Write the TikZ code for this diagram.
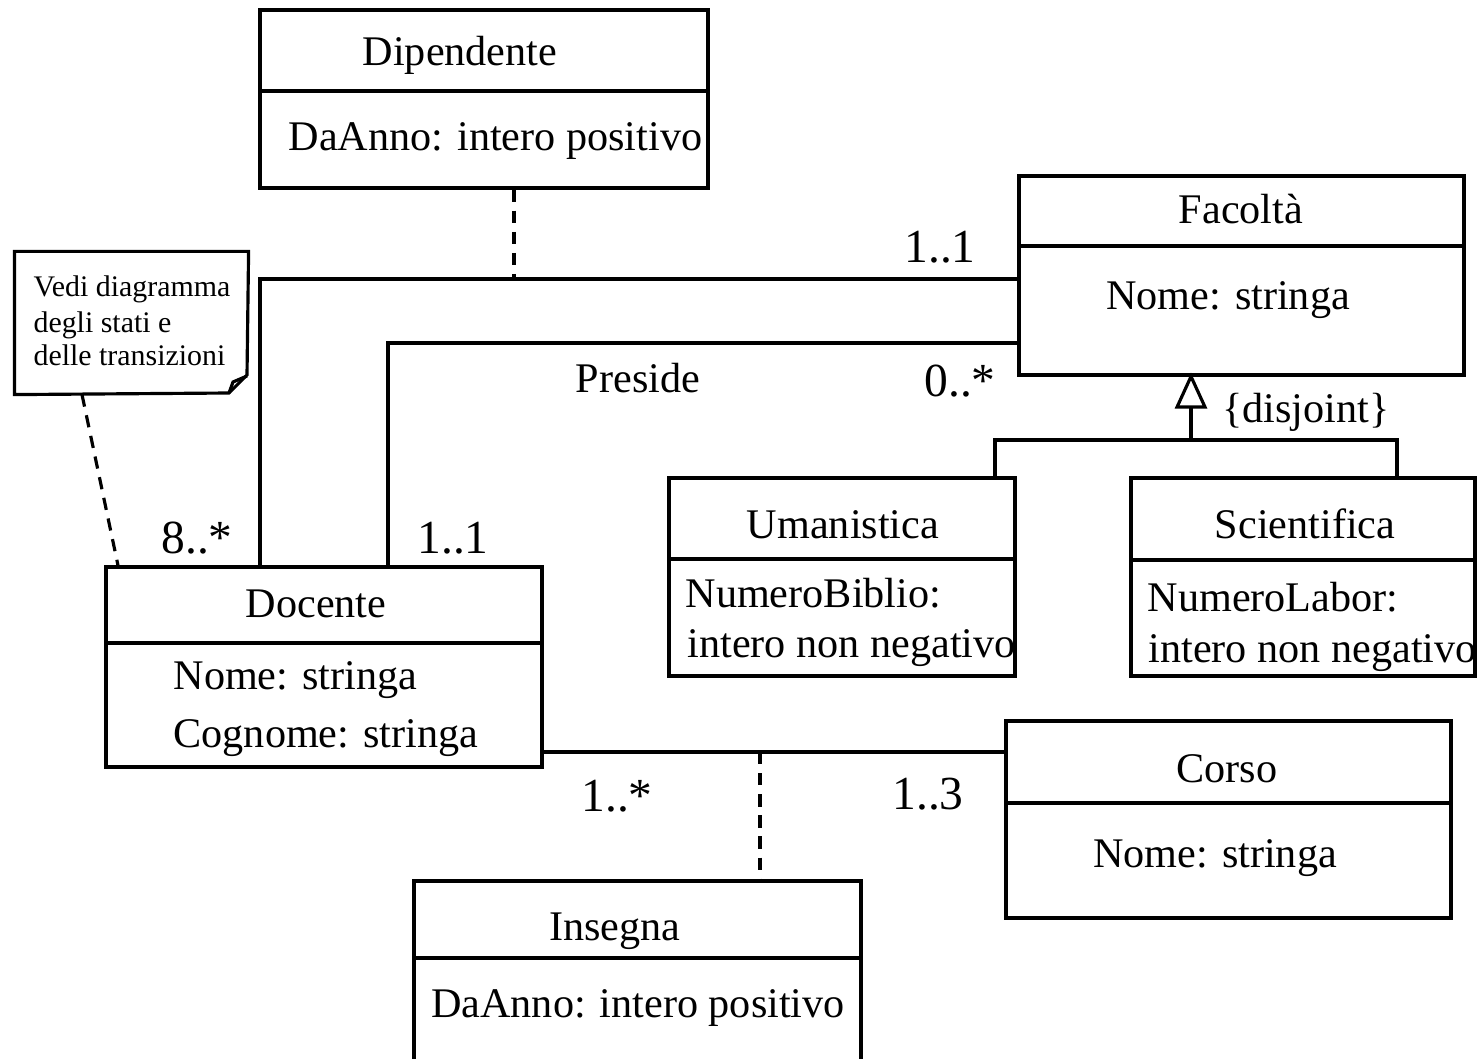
\documentclass[tikz,border=0pt]{standalone}
\usepackage{fontspec}
\setmainfont{Liberation Serif}
\usetikzlibrary{positioning}
\usetikzlibrary{arrows.meta}
\usetikzlibrary{fit}

\begin{document}
\begin{tikzpicture}[x=0.01cm, y=-0.01cm, line width=0.9pt,
  classbox/.style={draw, rectangle, inner sep=0pt},
  txt/.style={inner sep=0pt, anchor=base, font=\fontsize{12}{14}\selectfont},
  attr/.style={txt, anchor=base west},
  mult/.style={inner sep=0pt, anchor=base, font=\fontsize{13.5}{16}\selectfont},
  notetxt/.style={inner sep=0pt, anchor=base west, font=\fontsize{8.5}{10}\selectfont},
  assocdash/.style={dash pattern=on 3.5pt off 2.5pt},
  gen/.style={-{Triangle[open, length=0.36cm, width=0.32cm]}}]

\path[use as bounding box, clip] (0,0) rectangle (1477,1058);

% classes
\node[classbox, fit={(260,10) (708,188)}] (dip) {};
\draw (dip.west |- 0,91) -- (dip.east |- 0,91);
\node[txt] (dip-t) at (460,66) {Dipendente};
\node[attr] (dip-a) at (287,151) {DaAnno: intero positivo};

\node[classbox, fit={(1019,176) (1464,375)}] (fac) {};
\draw (fac.west |- 0,246) -- (fac.east |- 0,246);
\node[txt] (fac-t) at (1241,224) {Facoltà};
\node[txt] (fac-a) at (1228,310) {Nome: stringa};

\node[classbox, fit={(106,567) (542,767)}] (doc) {};
\draw (doc.west |- 0,643) -- (doc.east |- 0,643);
\node[txt] (doc-t) at (316,617) {Docente};
\node[attr] (doc-a1) at (172,689) {Nome: stringa};
\node[attr] (doc-a2) at (172,747) {Cognome: stringa};

\node[classbox, fit={(669,478) (1015,676)}] (uma) {};
\draw (uma.west |- 0,559) -- (uma.east |- 0,559);
\node[txt] (uma-t) at (843,538) {Umanistica};
\node[attr] (uma-a1) at (684,607) {NumeroBiblio:};
\node[attr] (uma-a2) at (686,657) {intero non negativo};

\node[classbox, fit={(1131,478) (1475,676)}] (sci) {};
\draw (sci.west |- 0,560) -- (sci.east |- 0,560);
\node[txt] (sci-t) at (1305,538) {Scientifica};
\node[attr] (sci-a1) at (1146,611) {NumeroLabor:};
\node[attr] (sci-a2) at (1147,662) {intero non negativo};

\node[classbox, fit={(1006,721) (1451,918)}] (cor) {};
\draw (cor.west |- 0,803) -- (cor.east |- 0,803);
\node[txt] (cor-t) at (1227,782) {Corso};
\node[txt] (cor-a) at (1215,867) {Nome: stringa};

\node[classbox, fit={(414,881) (861,1090)}] (ins) {};
\draw (ins.west |- 0,958) -- (ins.east |- 0,958);
\node[txt] (ins-t) at (615,940) {Insegna};
\node[txt] (ins-a) at (638,1017) {DaAnno: intero positivo};

% note
\node[inner sep=0pt, fit={(16,253) (247,393)}] (note) {};
\draw (note.north west) -- (note.north east) -- (247,375) -- (229,393)
  -- (note.south west) -- cycle;
\draw (229,393) -- (233,382) -- (247,376);
\node[notetxt] (note-1) at (32,296) {Vedi diagramma};
\node[notetxt] (note-2) at (32,332) {degli stati e};
\node[notetxt] (note-3) at (32,365) {delle transizioni};
\draw[assocdash] (note.south west -| 82,0) -- (doc.north -| 118,0);

% associations
\coordinate (dipjoin) at (514,279);
\draw (doc.north -| 260,0) |- (fac.west |- dipjoin);
\draw[assocdash] (dip.south -| dipjoin) -- (dipjoin);
\draw (doc.north -| 388,0) |- (fac.west |- 0,343);
\node[mult] (m-fac1) at (940,262) {1..1};
\node[mult] (m-doc1) at (197,553) {8..*};
\node[txt] (preside) at (638,392) {Preside};
\node[mult] (m-fac2) at (960,396) {0..*};
\node[mult] (m-doc2) at (453,553) {1..1};

\coordinate (insjoin) at (760,752);
\draw (doc.east |- insjoin) -- (cor.west |- insjoin);
\draw[assocdash] (insjoin) -- (ins.north -| insjoin);
\node[mult] (m-doc3) at (617,811) {1..*};
\node[mult] (m-cor) at (928,809) {1..3};

% generalization
\coordinate (hier) at (1191,440);
\draw[gen] (hier) -- ([yshift=0.04cm]fac.south -| hier);
\draw (uma.north -| 995,0) |- (hier) -| (sci.north -| 1397,0);
\node[txt] (disj) at (1306,422) {\{disjoint\}};

\end{tikzpicture}
\end{document}
